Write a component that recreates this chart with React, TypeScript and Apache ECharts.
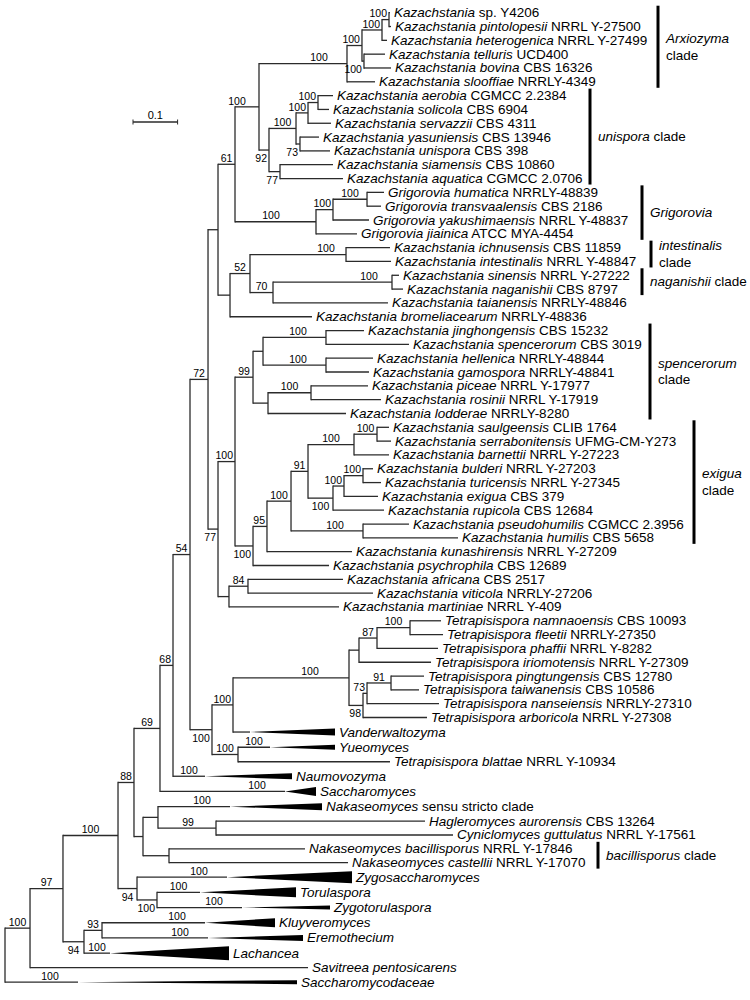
import React, { useEffect, useRef } from "react";
import * as echarts from "echarts";

// ---------- DATA ----------
// Internal nodes: [id, parent, depth from root (substitutions/site), bootstrap support]
const internalNodes: [string, string | null, number, number | null][] = [
  ["root", null, 0, null],
  ["A", "root", 0.0561, 100],
  ["B", "A", 0.13, 97],
  ["C", "B", 0.2534, 100],
  ["D", "B", 0.1771, 94],
  ["E", "D", 0.2175, 93],
  ["n88", "C", 0.2892, 88],
  ["n94", "C", 0.296, 94],
  ["nTor", "n94", 0.3408, 100],
  ["n69", "n88", 0.3475, 69],
  ["nNak", "n88", 0.3094, null],
  ["nNss", "nNak", 0.343, null],
  ["n99", "nNss", 0.4731, 99],
  ["nBac", "nNak", 0.3677, null],
  ["n68", "n69", 0.3767, 68],
  ["n54", "n68", 0.4148, 54],
  ["n72", "n54", 0.4552, 72],
  ["U", "n72", 0.4776, null],
  ["n61", "U", 0.5157, 61],
  ["n259", "n61", 0.5695, 100],
  ["Arx", "n259", 0.7668, 100],
  ["n362", "Arx", 0.8004, 100],
  ["n382", "n362", 0.8453, 100],
  ["n389", "n382", 0.861, 100],
  ["n363", "n362", 0.8049, 100],
  ["n92", "n259", 0.5919, 92],
  ["n296", "n92", 0.6525, 100],
  ["n308", "n296", 0.6794, 100],
  ["n318", "n308", 0.7018, 100],
  ["n73u", "n296", 0.6614, 73],
  ["n77u", "n92", 0.6166, 77],
  ["G0", "n61", 0.6973, 100],
  ["G1", "G0", 0.7354, 100],
  ["G2", "G1", 0.8117, 100],
  ["n230", "U", 0.5045, null],
  ["n52", "n230", 0.5493, 52],
  ["nInt", "n52", 0.7646, 100],
  ["n70", "n52", 0.6009, 70],
  ["nSin", "n70", 0.8677, 100],
  ["Q", "n72", 0.4776, 77],
  ["P", "Q", 0.5157, 100],
  ["S", "P", 0.5561, 99],
  ["n263", "S", 0.5785, null],
  ["nJin", "n263", 0.7197, 100],
  ["nHel", "n263", 0.7197, 100],
  ["n268", "S", 0.5897, null],
  ["nPic", "n268", 0.6861, 100],
  ["E0", "P", 0.5561, 100],
  ["E1", "E0", 0.5874, 95],
  ["E2", "E1", 0.6413, 100],
  ["E3", "E2", 0.6794, 91],
  ["E4", "E3", 0.7825, 100],
  ["nSau", "E4", 0.8341, 100],
  ["E5", "E3", 0.7354, 100],
  ["E6", "E5", 0.7601, 100],
  ["nBul", "E6", 0.8027, 100],
  ["nHum", "E2", 0.8027, 100],
  ["n229", "Q", 0.5022, null],
  ["n84", "n229", 0.5448, 84],
  ["T0", "n54", 0.4641, 100],
  ["T1", "T0", 0.5112, 100],
  ["T2", "T1", 0.7713, 100],
  ["T3", "T2", 0.7937, null],
  ["T4", "T3", 0.8341, 87],
  ["nNam", "T4", 0.9081, 100],
  ["n98", "T2", 0.8027, 98],
  ["n73t", "n98", 0.8117, 73],
  ["nPin", "n73t", 0.8655, 91],
  ["Y0", "T0", 0.5224, 100],
];

// Leaves top to bottom: [italic name, plain suffix, parent, tip depth, collapsed-clade root depth, support]
const leaves: [string, string, string, number, number | null, number | null][] = [
  ["Kazachstania", "sp. Y4206", "n389", 0.8632, null, null],
  ["Kazachstania pintolopesii", "NRRL Y-27500", "n389", 0.8655, null, null],
  ["Kazachstania heterogenica", "NRRL Y-27499", "n382", 0.8565, null, null],
  ["Kazachstania telluris", "UCD400", "n363", 0.852, null, null],
  ["Kazachstania bovina", "CBS 16326", "n363", 0.8655, null, null],
  ["Kazachstania slooffiae", "NRRLY-4349", "Arx", 0.8296, null, null],
  ["Kazachstania aerobia", "CGMCC 2.2384", "n318", 0.7354, null, null],
  ["Kazachstania solicola", "CBS 6904", "n318", 0.7265, null, null],
  ["Kazachstania servazzii", "CBS 4311", "n308", 0.7309, null, null],
  ["Kazachstania yasuniensis", "CBS 13946", "n73u", 0.704, null, null],
  ["Kazachstania unispora", "CBS 398", "n73u", 0.7287, null, null],
  ["Kazachstania siamensis", "CBS 10860", "n77u", 0.7354, null, null],
  ["Kazachstania aquatica", "CGMCC 2.0706", "n77u", 0.7578, null, null],
  ["Grigorovia humatica", "NRRLY-48839", "G2", 0.8498, null, null],
  ["Grigorovia transvaalensis", "CBS 2186", "G2", 0.843, null, null],
  ["Grigorovia yakushimaensis", "NRRL Y-48837", "G1", 0.8161, null, null],
  ["Grigorovia jiainica", "ATCC MYA-4454", "G0", 0.7892, null, null],
  ["Kazachstania ichnusensis", "CBS 11859", "nInt", 0.8632, null, null],
  ["Kazachstania intestinalis", "NRRL Y-48847", "nInt", 0.8655, null, null],
  ["Kazachstania sinensis", "NRRL Y-27222", "nSin", 0.8834, null, null],
  ["Kazachstania naganishii", "CBS 8797", "nSin", 0.8924, null, null],
  ["Kazachstania taianensis", "NRRLY-48846", "n70", 0.8587, null, null],
  ["Kazachstania bromeliacearum", "NRRLY-48836", "n230", 0.6883, null, null],
  ["Kazachstania jinghongensis", "CBS 15232", "nJin", 0.8049, null, null],
  ["Kazachstania spencerorum", "CBS 3019", "nJin", 0.9058, null, null],
  ["Kazachstania hellenica", "NRRLY-48844", "nHel", 0.8251, null, null],
  ["Kazachstania gamospora", "NRRLY-48841", "nHel", 0.8161, null, null],
  ["Kazachstania piceae", "NRRL Y-17977", "nPic", 0.8139, null, null],
  ["Kazachstania rosinii", "NRRL Y-17919", "nPic", 0.843, null, null],
  ["Kazachstania lodderae", "NRRLY-8280", "n268", 0.7646, null, null],
  ["Kazachstania saulgeensis", "CLIB 1764", "nSau", 0.861, null, null],
  ["Kazachstania serrabonitensis", "UFMG-CM-Y273", "nSau", 0.8655, null, null],
  ["Kazachstania barnettii", "NRRL Y-27223", "E4", 0.861, null, null],
  ["Kazachstania bulderi", "NRRL Y-27203", "nBul", 0.8251, null, null],
  ["Kazachstania turicensis", "NRRL Y-27345", "nBul", 0.843, null, null],
  ["Kazachstania exigua", "CBS 379", "E6", 0.8363, null, null],
  ["Kazachstania rupicola", "CBS 12684", "E5", 0.8498, null, null],
  ["Kazachstania pseudohumilis", "CGMCC 2.3956", "nHum", 0.9058, null, null],
  ["Kazachstania humilis", "CBS 5658", "nHum", 1.0157, null, null],
  ["Kazachstania kunashirensis", "NRRL Y-27209", "E1", 0.778, null, null],
  ["Kazachstania psychrophila", "CBS 12689", "E0", 0.7265, null, null],
  ["Kazachstania africana", "CBS 2517", "n84", 0.7578, null, null],
  ["Kazachstania viticola", "NRRLY-27206", "n84", 0.8251, null, null],
  ["Kazachstania martiniae", "NRRL Y-409", "n229", 0.7489, null, null],
  ["Tetrapisispora namnaoensis", "CBS 10093", "nNam", 0.9776, null, null],
  ["Tetrapisispora fleetii", "NRRLY-27350", "nNam", 0.9821, null, null],
  ["Tetrapisispora phaffii", "NRRL Y-8282", "T4", 0.9709, null, null],
  ["Tetrapisispora iriomotensis", "NRRL Y-27309", "T3", 0.9552, null, null],
  ["Tetrapisispora pingtungensis", "CBS 12780", "nPin", 0.9395, null, null],
  ["Tetrapisispora taiwanensis", "CBS 10586", "nPin", 0.9283, null, null],
  ["Tetrapisispora nanseiensis", "NRRLY-27310", "n73t", 0.9731, null, null],
  ["Tetrapisispora arboricola", "NRRL Y-27308", "n98", 0.9462, null, null],
  ["Vanderwaltozyma", "", "T1", 0.7399, 0.5493, null],
  ["Yueomyces", "", "Y0", 0.7399, 0.5942, 100],
  ["Tetrapisispora blattae", "NRRL Y-10934", "Y0", 0.8632, null, null],
  ["Naumovozyma", "", "n68", 0.6435, 0.4484, 100],
  ["Saccharomyces", "", "n69", 0.6973, 0.6278, 100],
  ["Nakaseomyces", "sensu stricto clade", "nNss", 0.7108, 0.5045, 100],
  ["Hagleromyces aurorensis", "CBS 13264", "n99", 0.9417, null, null],
  ["Cyniclomyces guttulatus", "NRRL Y-17561", "n99", 1.0045, null, null],
  ["Nakaseomyces bacillisporus", "NRRL Y-17846", "nBac", 0.6726, null, null],
  ["Nakaseomyces castellii", "NRRL Y-17070", "nBac", 0.7691, null, null],
  ["Zygosaccharomyces", "", "n94", 0.778, 0.4978, 100],
  ["Torulaspora", "", "nTor", 0.6525, 0.4372, 100],
  ["Zygotorulaspora", "", "nTor", 0.7287, 0.5314, 100],
  ["Kluyveromyces", "", "E", 0.6054, 0.4484, 100],
  ["Eremothecium", "", "E", 0.6682, 0.4552, 100],
  ["Lachancea", "", "D", 0.5022, 0.2354, 100],
  ["Savitreea pentosicarens", "", "A", 0.6794, null, null],
  ["Saccharomycodaceae", "", "root", 0.6547, 0.1637, 100],
];

// Clades marked with bars: [label lines (rich), first leaf index, last leaf index]
const cladeBrackets: [string[], number, number][] = [
  [["{i|Arxiozyma}", "clade"], 0, 5],
  [["{i|unispora} clade"], 6, 12],
  [["{i|Grigorovia}"], 13, 16],
  [["{i|intestinalis}", "clade"], 17, 18],
  [["{i|naganishii} clade"], 19, 20],
  [["{i|spencerorum}", "clade"], 23, 29],
  [["{i|exigua}", "clade"], 30, 38],
  [["{i|bacillisporus} clade"], 60, 61],
];

const scaleBarLength = 0.1;
const scaleBarLabel = "0.1";

// ---------- LAYOUT / STYLE ----------
const supportBelow = new Set(["D", "n94", "nTor", "n363", "n92", "n77u", "n73u", "Q", "E0", "E5", "T0", "n98"]);
// support labels whose placement differs from the default rule (pixel offset of label centre from node)
const supportShift: Record<string, number> = { G0: -45, T2: -39, n259: -22, nInt: -20, nSin: -23 };
const wedgeHeightPx: Record<string, number> = {
  Vanderwaltozyma: 7, Yueomyces: 5, Naumovozyma: 6, Saccharomyces: 9, Nakaseomyces: 7,
  Zygosaccharomyces: 12, Torulaspora: 10, Zygotorulaspora: 4, Kluyveromyces: 9,
  Eremothecium: 6, Lachancea: 14, Saccharomycodaceae: 4,
};
const bracketX = [658, 590, 642, 651, 642, 650, 694, 598];
const COLLAPSED_ROW = 1.1;
const ROW_PX = 13.82;
const FIRST_ROW_PX = 12.7;
const PX_PER_UNIT = 446;
const FONT = "'Liberation Sans', Arial, Helvetica, sans-serif";
const LINE = "#2b2b2b";
const LW = 1.3;

// ---------- TREE LAYOUT ----------
type Item = any;
function buildItems(): Item[] {
  const map = new Map<string, any>();
  internalNodes.forEach(([id, parent, depth, sup]) =>
    map.set(id, { id, parent, depth, sup, kids: [] as any[] })
  );
  let acc = 0;
  const leafItems = leaves.map(([it, pl, parent, depth, apex, sup]) => {
    const h = apex != null ? COLLAPSED_ROW : 1;
    const y = acc + h / 2;
    acc += h;
    const item = {
      kind: apex != null ? "tri" : "leaf",
      it, pl, parent, depth, apex, sup, y,
      parentDepth: map.get(parent).depth,
    };
    map.get(parent).kids.push(item);
    return item;
  });
  internalNodes.forEach(([id, parent]) => {
    if (parent) map.get(parent).kids.push(map.get(id));
  });
  const getY = (n: any): number => {
    if (n.y != null) return n.y;
    const ys = n.kids.map(getY);
    n.yMin = Math.min(...ys);
    n.yMax = Math.max(...ys);
    n.y = (n.yMin + n.yMax) / 2;
    return n.y;
  };
  const nodeItems = internalNodes.map(([id, parent]) => {
    const n = map.get(id);
    getY(n);
    return {
      kind: "node", id, depth: n.depth, y: n.y, yMin: n.yMin, yMax: n.yMax, sup: n.sup,
      parentDepth: parent ? map.get(parent).depth : null, below: supportBelow.has(id),
    };
  });
  const bracketItems = cladeBrackets.map(([lines, a, b], i) => ({
    kind: "bracket", depth: 0, y: leafItems[a].y, y1: leafItems[a].y, y2: leafItems[b].y, lines, x: bracketX[i],
  }));
  const scale = { kind: "scale", depth: 0, y: 0 };
  return [...nodeItems, ...leafItems, ...bracketItems, scale];
}

const items = buildItems();
const firstCenter = items.find((d) => d.kind === "leaf").y;
const yMin = firstCenter - FIRST_ROW_PX / ROW_PX;
const yMax = yMin + 1000 / ROW_PX;
const xMax = 1.5;

const richStyles = {
  i: { fontStyle: "italic", fontSize: 13.5, fontFamily: FONT, fill: "#000" },
};

function supportLabel(x1: number, x2: number, y: number, val: number, below: boolean, id?: string) {
  const s = String(val);
  const w = s.length * 5.85;
  const len = x2 - x1;
  let cx = len < w + 4 ? x2 - 2 - w / 2 : x2 - Math.min(28, len / 2);
  if (id && supportShift[id] != null) cx = x2 + supportShift[id];
  return {
    type: "text",
    x: cx,
    y: below ? y + 2.5 : y - 0.8,
    style: {
      text: s, fontSize: 10.5, fontFamily: FONT, fill: "#000",
      align: "center", verticalAlign: below ? "top" : "bottom",
    },
  };
}

function renderItem(params: any, api: any) {
  const it = items[params.dataIndex];
  const children: any[] = [];
  const line = (x1: number, y1: number, x2: number, y2: number, w = LW) => ({
    type: "line", shape: { x1, y1, x2, y2 }, style: { stroke: LINE, lineWidth: w },
  });
  if (it.kind === "node" || it.kind === "leaf" || it.kind === "tri") {
    const [px, py] = api.coord([it.depth, it.y]);
    const endX = it.kind === "tri" ? api.coord([it.apex, it.y])[0] : px;
    if (it.parentDepth != null) {
      const ppx = api.coord([it.parentDepth, it.y])[0];
      children.push(line(ppx, py, endX, py));
      if (it.sup != null) children.push(supportLabel(ppx, endX, py, it.sup, !!it.below, it.id));
    }
    if (it.kind === "node") {
      const y1 = api.coord([it.depth, it.yMin])[1];
      const y2 = api.coord([it.depth, it.yMax])[1];
      children.push(line(px, y1 - LW / 2, px, y2 + LW / 2));
    }
    if (it.kind === "tri") {
      const h = wedgeHeightPx[it.it] || 6;
      children.push({
        type: "polygon",
        shape: { points: [[endX, py], [px, py - h / 2], [px, py + h / 2]] },
        style: { fill: "#000" },
      });
    }
    if (it.kind !== "node") {
      const txt = it.pl ? `{i|${it.it}} ${it.pl}` : `{i|${it.it}}`;
      children.push({
        type: "text", x: px + 4, y: py,
        style: {
          text: txt, rich: richStyles, fontSize: 13.5, fontFamily: FONT, fill: "#000",
          align: "left", verticalAlign: "middle",
        },
      });
    }
  } else if (it.kind === "bracket") {
    const y1 = api.coord([0, it.y1])[1] - 7;
    const y2 = api.coord([0, it.y2])[1] + 6;
    children.push({ type: "rect", shape: { x: it.x - 1.5, y: y1, width: 3, height: y2 - y1 }, style: { fill: "#000" } });
    children.push({
      type: "text", x: it.x + 8, y: (y1 + y2) / 2,
      style: {
        text: it.lines.join("\n"), rich: richStyles, fontSize: 13.5, fontFamily: FONT, fill: "#000",
        align: "left", verticalAlign: "middle", lineHeight: 16.5,
      },
    });
  } else if (it.kind === "scale") {
    const len = api.size([scaleBarLength, 0])[0];
    const x0 = 133, y0 = 122;
    children.push(line(x0, y0, x0 + len, y0, 1.5));
    children.push(line(x0, y0 - 2.5, x0, y0 + 2.5, 1));
    children.push(line(x0 + len, y0 - 2.5, x0 + len, y0 + 2.5, 1));
    children.push({
      type: "text", x: x0 + len / 2, y: y0 - 1.5,
      style: { text: scaleBarLabel, fontSize: 11, fontFamily: FONT, fill: "#000", align: "center", verticalAlign: "bottom" },
    });
  }
  return { type: "group", children };
}

export default function App() {
  const ref = useRef<HTMLDivElement>(null);
  useEffect(() => {
    const chart = echarts.init(ref.current!, null, { renderer: "svg" });
    chart.setOption({
      animation: false,
      backgroundColor: "#ffffff",
      grid: { left: 5, top: 0, width: PX_PER_UNIT * xMax, height: 1000, containLabel: false },
      xAxis: { type: "value", min: 0, max: xMax, show: false },
      yAxis: { type: "value", min: yMin, max: yMax, inverse: true, show: false },
      series: [
        {
          type: "custom",
          coordinateSystem: "cartesian2d",
          clip: false,
          silent: true,
          renderItem,
          encode: { x: 0, y: 1 },
          data: items.map((d, i) => [d.depth, d.y, i]),
        },
      ],
    });
    return () => chart.dispose();
  }, []);
  return (
    <div
      ref={ref}
      style={{ position: "absolute", left: 0, top: 0, width: 750, height: 1000, background: "#fff" }}
    />
  );
}
